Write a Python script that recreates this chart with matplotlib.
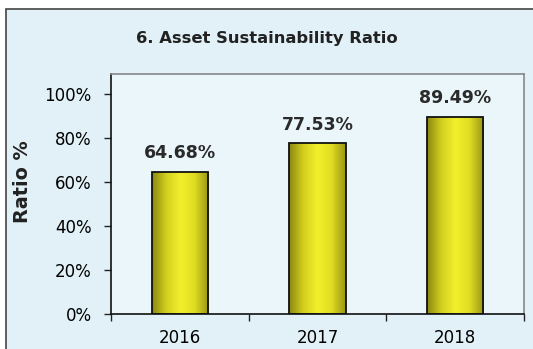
import matplotlib.pyplot as plt
import numpy as np
from matplotlib.colors import LinearSegmentedColormap
from matplotlib.patches import Rectangle

# --- data ---
years = ["2016", "2017", "2018"]
ratio_pct = [64.68, 77.53, 89.49]
value_labels = ["64.68%", "77.53%", "89.49%"]
y_ticks = [0, 20, 40, 60, 80, 100]
y_tick_labels = ["0%", "20%", "40%", "60%", "80%", "100%"]

plt.rcParams.update({
    "font.family": "DejaVu Sans",
    "font.size": 12,
})

fig = plt.figure(figsize=(5.33, 3.49), dpi=100)
fig.patch.set_facecolor("white")

# outer chart frame (light blue panel with dark border)
frame = Rectangle((6 / 533, -0.05), 1.1, (349 - 9) / 349 + 0.05,
                  transform=fig.transFigure, facecolor="#e1f1f7",
                  edgecolor="#444444", linewidth=1.2, zorder=-5)
fig.patches.append(frame)

ax = fig.add_axes([111 / 533, 35 / 349, 413 / 533, 240 / 349])
ax.set_zorder(1)
ax.set_facecolor("#eaf6fa")

x = np.arange(len(years))
bar_w = 0.41
bars = ax.bar(x, ratio_pct, width=bar_w, color="none", edgecolor="#111111",
              linewidth=1.3, zorder=3)

# horizontal shading inside each bar
shade = LinearSegmentedColormap.from_list(
    "bar_shade", ["#8a8812", "#d2cf1e", "#f2f02c", "#e0dc22", "#989416"])
grad = np.linspace(0, 1, 256).reshape(1, -1)
for rect in bars:
    x0, w, h = rect.get_x(), rect.get_width(), rect.get_height()
    im = ax.imshow(grad, cmap=shade, aspect="auto",
                   extent=(x0, x0 + w, 0, h), zorder=2)
    im.set_clip_path(rect)

for xi, val, lab in zip(x, ratio_pct, value_labels):
    ax.text(xi, val + 8.5, lab, ha="center", va="center",
            fontsize=12.5, fontweight="bold", color="#2a2a2a")

ax.set_xlim(-0.5, len(years) - 0.5)
ax.set_ylim(0, 109.1)
ax.set_yticks(y_ticks)
ax.set_yticklabels(y_tick_labels)
ax.set_xticks(x)
ax.set_xticklabels(years)
ax.set_xticks(np.arange(-0.5, len(years)), minor=True)
ax.tick_params(axis="x", which="major", length=0, pad=11)
ax.tick_params(axis="x", which="minor", length=5, width=1, color="#222222")
ax.tick_params(axis="y", length=5, width=1, pad=9, color="#222222")

for side in ("left", "bottom"):
    ax.spines[side].set_color("#111111")
    ax.spines[side].set_linewidth(1.2)
for side in ("top", "right"):
    ax.spines[side].set_color("#888888")
    ax.spines[side].set_linewidth(1.2)

fig.text(22 / 533, 1 - 182 / 349, "Ratio %", rotation=90,
         ha="center", va="center", fontsize=13.8, fontweight="bold",
         color="#222222")
fig.text(267 / 533, 1 - 38 / 349, "6. Asset Sustainability Ratio",
         ha="center", va="center", fontsize=11.8, fontweight="bold",
         color="#222222")

fig.savefig("out.png", dpi=100)
